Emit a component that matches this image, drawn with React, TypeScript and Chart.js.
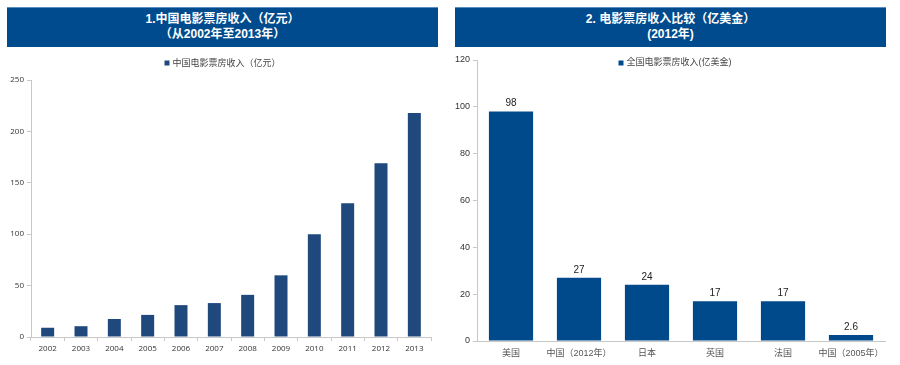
import React, { useEffect, useRef } from "react";
import { Chart, registerables } from "chart.js";

Chart.register(...registerables);

const yearLabels = ["2002", "2003", "2004", "2005", "2006", "2007", "2008", "2009", "2010", "2011", "2012", "2013"];
const chinaBoxOffice = [9, 10.5, 17.5, 21.5, 31, 33, 41, 60, 100, 130, 169, 218];
const leftSeriesName = "中国电影票房收入（亿元）";

const countryLabels = ["美国", "中国（2012年）", "日本", "英国", "法国", "中国（2005年）"];
const countryBoxOffice = [98, 27, 24, 17, 17, 2.6];
const rightSeriesName = "全国电影票房收入(亿美金)";

const leftTitle = ["1.中国电影票房收入（亿元）", "（从2002年至2013年）"];
const rightTitle = ["2. 电影票房收入比较（亿美金）", "(2012年)"];

const FONT = "'Liberation Sans', 'Noto Sans CJK SC', sans-serif";
const FONT_L = "'Open Sans', 'Noto Sans CJK SC', sans-serif";

const legendPlugin = {
  id: "customLegend",
  afterDraw(chart: any, _args: any, opts: any) {
    const ctx = chart.ctx;
    const ds = chart.data.datasets[0];
    ctx.save();
    ctx.font = `${opts.size || 9}px ${opts.family || FONT}`;
    const text = ds.label as string;
    const tw = ctx.measureText(text).width;
    const box = 5;
    const gap = 3;
    const total = box + gap + tw;
    const cx = opts.cx ?? chart.width / 2;
    const x0 = cx - total / 2;
    const y = opts.y ?? 13;
    ctx.fillStyle = ds.backgroundColor;
    ctx.fillRect(x0, y - box / 2, box, box);
    ctx.fillStyle = opts.color || "#444";
    ctx.textBaseline = "middle";
    ctx.textAlign = "left";
    ctx.fillText(text, x0 + box + gap, y);
    ctx.restore();
  },
};

const valueLabelPlugin = {
  id: "valueLabels",
  afterDatasetsDraw(chart: any, _args: any, opts: any) {
    if (!opts || !opts.enabled) return;
    const ctx = chart.ctx;
    const meta = chart.getDatasetMeta(0);
    const data = chart.data.datasets[0].data;
    ctx.save();
    ctx.font = `${opts.size || 10}px ${FONT}`;
    ctx.fillStyle = "#222";
    ctx.textAlign = "center";
    ctx.textBaseline = "bottom";
    meta.data.forEach((el: any, i: number) => {
      ctx.fillText(String(data[i]), el.x, el.y - 3);
    });
    ctx.restore();
  },
};

function BarChart(props: {
  labels: string[];
  values: number[];
  name: string;
  color: string;
  max: number;
  step: number;
  yWidth: number;
  xHeight: number;
  padding: { top: number; right: number; bottom: number; left: number };
  barPct: number;
  font: string;
  tickSize: number;
  xTickSize: number;
  xTickMarks: boolean;
  xTickColor: string;
  showValues: boolean;
  width: number;
  height: number;
}) {
  const ref = useRef<HTMLCanvasElement | null>(null);
  useEffect(() => {
    if (!ref.current) return;
    const chart = new Chart(ref.current, {
      type: "bar",
      data: {
        labels: props.labels,
        datasets: [
          {
            label: props.name,
            data: props.values,
            backgroundColor: props.color,
            borderWidth: 0,
            barPercentage: props.barPct,
            categoryPercentage: 1,
          },
        ],
      },
      plugins: [legendPlugin, valueLabelPlugin],
      options: {
        animation: false,
        responsive: false,
        maintainAspectRatio: false,
        devicePixelRatio: 1,
        layout: { padding: props.padding },
        plugins: {
          legend: { display: false },
          tooltip: { enabled: false },
          customLegend: { y: 13, size: 9, family: props.font },
          valueLabels: { enabled: props.showValues, size: 10 },
        } as any,
        scales: {
          x: {
            grid: {
              display: props.xTickMarks,
              drawOnChartArea: false,
              drawTicks: props.xTickMarks,
              tickLength: 4,
              color: "#c8c8c8",
              offset: true,
            },
            border: { display: true, color: "#c8c8c8" },
            ticks: {
              color: props.xTickColor,
              font: { size: props.xTickSize, family: props.font },
              padding: props.xTickMarks ? 3 : 7,
              maxRotation: 0,
              autoSkip: false,
            },
            afterFit: (s: any) => {
              s.height = props.xHeight;
            },
          },
          y: {
            min: 0,
            max: props.max,
            grid: {
              display: true,
              drawOnChartArea: false,
              drawTicks: true,
              tickLength: 4,
              color: "#c8c8c8",
            },
            border: { display: true, color: "#c8c8c8" },
            ticks: {
              stepSize: props.step,
              color: "#333",
              font: { size: props.tickSize, family: props.font },
              padding: 3,
            },
            afterFit: (s: any) => {
              s.width = props.yWidth;
            },
          },
        },
      },
    });
    return () => chart.destroy();
  }, []);
  return <canvas ref={ref} width={props.width} height={props.height} style={{ width: props.width, height: props.height, display: "block" }} />;
}

function TitleBox(props: { lines: string[]; left: number; width: number }) {
  return (
    <div
      style={{
        position: "absolute",
        left: props.left,
        top: 7,
        width: props.width,
        height: 40,
        background: "#004b8d",
        borderTop: "1px solid #5b8cc0",
        boxSizing: "border-box",
        color: "#fff",
        fontFamily: "'Liberation Sans', 'Noto Sans CJK SC', sans-serif",
        fontWeight: "bold",
        fontSize: 12,
        lineHeight: "15px",
        textAlign: "center",
        paddingTop: 4,
      }}
    >
      <div>{props.lines[0]}</div>
      <div>{props.lines[1]}</div>
    </div>
  );
}

export default function App() {
  return (
    <div style={{ position: "fixed", left: 0, top: 0, width: 900, height: 365, background: "#fff", overflow: "hidden" }}>
      <TitleBox lines={leftTitle} left={7} width={431} />
      <TitleBox lines={rightTitle} left={455} width={431} />
      <div style={{ position: "absolute", left: 0, top: 50 }}>
        <BarChart
          labels={yearLabels}
          values={chinaBoxOffice}
          name={leftSeriesName}
          color="#1f497d"
          max={250}
          step={50}
          yWidth={31}
          xHeight={28}
          padding={{ top: 30, right: 14, bottom: 0, left: 0 }}
          barPct={0.39}
          font={FONT_L}
          tickSize={8}
          xTickSize={8}
          xTickMarks={true}
          xTickColor="#333"
          showValues={false}
          width={445}
          height={315}
        />
      </div>
      <div style={{ position: "absolute", left: 450, top: 50 }}>
        <BarChart
          labels={countryLabels}
          values={countryBoxOffice}
          name={rightSeriesName}
          color="#004a8c"
          max={120}
          step={20}
          yWidth={27}
          xHeight={24}
          padding={{ top: 10, right: 15, bottom: 0, left: 0 }}
          barPct={0.65}
          font={FONT}
          tickSize={9}
          xTickSize={9}
          xTickMarks={false}
          xTickColor="#555"
          showValues={true}
          width={450}
          height={315}
        />
      </div>
    </div>
  );
}
